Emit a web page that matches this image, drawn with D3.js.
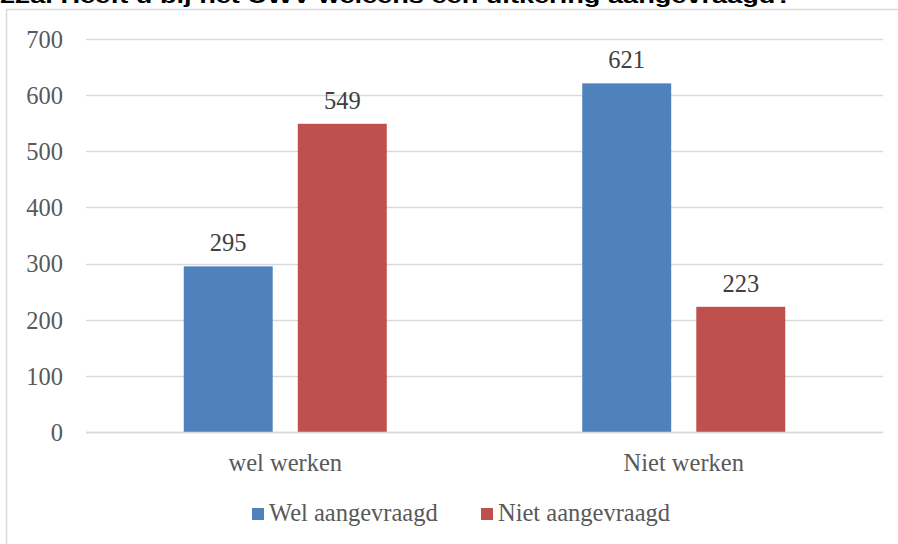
<!DOCTYPE html>
<html>
<head>
<meta charset="utf-8">
<script src="https://cdn.jsdelivr.net/npm/d3@7"></script>
<style>
  html, body { margin: 0; padding: 0; background: #fff; }
  svg { display: block; }
</style>
</head>
<body>
<svg id="chart" width="898" height="544"></svg>
<script>
const title = "22a. Heeft u bij het UWV weleens een uitkering aangevraagd?";
const categories = ["wel werken", "Niet werken"];
const seriesNames = ["Wel aangevraagd", "Niet aangevraagd"];
const welAangevraagd = [295, 621];
const nietAangevraagd = [549, 223];
const yTicks = [0, 100, 200, 300, 400, 500, 600, 700];
const colors = ["#4F81BD", "#C0504D"];

const seriesValues = [welAangevraagd, nietAangevraagd];
const svg = d3.select("#chart");
const serif = "'Liberation Serif', 'DejaVu Serif', serif";
const textColor = "#595959";
const fs = 24.5;

// border of chart area (only left and top visible)
svg.append("rect")
  .attr("x", 6.5).attr("y", 9.5)
  .attr("width", 1000).attr("height", 1000)
  .attr("fill", "none").attr("stroke", "#D9D9D9").attr("stroke-width", 1.5);

// title (clipped at top, as in the source)
svg.append("text")
  .attr("x", 0).attr("y", 3)
  .attr("font-family", "'Liberation Sans', Arial, sans-serif")
  .attr("font-weight", "bold")
  .attr("font-size", 21)
  .attr("fill", "#000")
  .attr("textLength", 792)
  .attr("lengthAdjust", "spacingAndGlyphs")
  .text(title);

const plotLeft = 86, plotRight = 883;
const y = d3.scaleLinear().domain([0, 700]).range([432, 39]);
const x0 = d3.scaleBand().domain(categories).range([plotLeft, plotRight]).padding(0);
const groupPad = 97.75;
const x1 = d3.scaleBand().domain(seriesNames)
  .range([groupPad, x0.bandwidth() - groupPad])
  .paddingInner(0.22).paddingOuter(0);

// gridlines
svg.append("g").selectAll("line").data(yTicks).join("line")
  .attr("x1", plotLeft).attr("x2", plotRight)
  .attr("y1", d => Math.round(y(d)) + 0.5).attr("y2", d => Math.round(y(d)) + 0.5)
  .attr("stroke", "#D9D9D9").attr("stroke-width", 1.5);

// y axis labels
const yAxis = d3.axisLeft(y).tickValues(yTicks).tickSize(0).tickPadding(0);
const yg = svg.append("g").attr("transform", `translate(63,0)`).call(yAxis);
yg.select(".domain").remove();
yg.selectAll("text")
  .attr("font-family", serif).attr("font-size", fs).attr("fill", textColor)
  .attr("dy", "0.34em");

// bars
const groups = svg.append("g").selectAll("g").data(categories).join("g")
  .attr("transform", d => `translate(${x0(d)},0)`);

groups.each(function(cat, ci) {
  const g = d3.select(this);
  seriesNames.forEach((s, si) => {
    const v = seriesValues[si][ci];
    g.append("rect")
      .attr("x", x1(s)).attr("width", x1.bandwidth())
      .attr("y", y(v)).attr("height", y(0) - y(v))
      .attr("fill", colors[si]);
    g.append("text")
      .attr("x", x1(s) + x1.bandwidth() / 2)
      .attr("y", y(v) - 15)
      .attr("text-anchor", "middle")
      .attr("font-family", serif).attr("font-size", fs).attr("fill", "#404040")
      .text(v);
  });
});

// x axis line (baseline)
svg.append("line")
  .attr("x1", plotLeft).attr("x2", plotRight)
  .attr("y1", 432.5).attr("y2", 432.5)
  .attr("stroke", "#D9D9D9").attr("stroke-width", 1.5);

// category labels
const xAxis = d3.axisBottom(x0).tickSize(0).tickPadding(0);
const xg = svg.append("g").attr("transform", `translate(0,471)`).call(xAxis);
xg.select(".domain").remove();
xg.selectAll("text")
  .attr("font-family", serif).attr("font-size", fs).attr("fill", textColor)
  .attr("dy", 0).attr("y", 0);

// legend
const legendItems = [
  { name: seriesNames[0], color: colors[0], x: 252 },
  { name: seriesNames[1], color: colors[1], x: 481 }
];
const lg = svg.append("g").selectAll("g").data(legendItems).join("g")
  .attr("transform", d => `translate(${d.x},508)`);
lg.append("rect").attr("width", 12).attr("height", 12).attr("fill", d => d.color);
lg.append("text")
  .attr("x", 17).attr("y", 13)
  .attr("font-family", serif).attr("font-size", fs).attr("fill", textColor)
  .text(d => d.name);
</script>
</body>
</html>
